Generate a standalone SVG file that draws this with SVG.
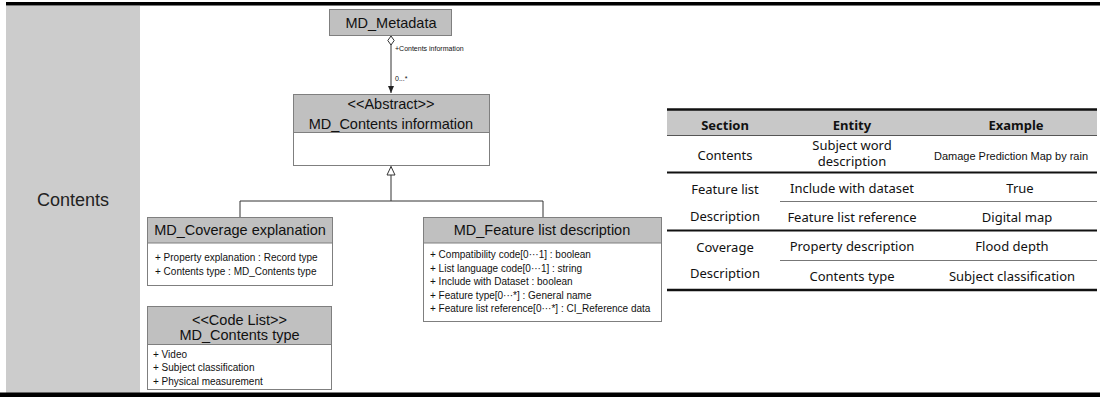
<svg xmlns="http://www.w3.org/2000/svg" width="1100" height="397" viewBox="0 0 1100 397">
<style>
.uml{font-family:"Liberation Sans",Arial,sans-serif;fill:#111}
.hd{font-size:14.5px;text-anchor:middle}
.it{font-size:10px}
.hdbox{fill:#c0c0c0;stroke:#7f7f7f;stroke-width:1}
.body{fill:#fff;stroke:#7f7f7f;stroke-width:1}
.conn{fill:none;stroke:#333;stroke-width:1}
.tb{font-family:"Noto Sans","Liberation Sans",sans-serif;font-size:13px;fill:#111;text-anchor:middle}
.tbh{font-weight:bold}
.thin{stroke:#777;stroke-width:1}
.thick{stroke:#111;stroke-width:2}
</style>
<defs>
<marker id="diamond" markerWidth="10" markerHeight="8" refX="0" refY="4" orient="auto" markerUnits="userSpaceOnUse">
<path d="M0,4 L4.5,0.8 L9,4 L4.5,7.2 Z" fill="#fff" stroke="#333" stroke-width="1"/>
</marker>
<marker id="arrow" markerWidth="8" markerHeight="8" refX="7" refY="4" orient="auto" markerUnits="userSpaceOnUse">
<path d="M0,1 L7,4 L0,7 Z" fill="#222"/>
</marker>
<marker id="gen" markerWidth="10" markerHeight="10" refX="9" refY="5" orient="auto" markerUnits="userSpaceOnUse">
<path d="M0.5,1 L9,5 L0.5,9 Z" fill="#fff" stroke="#333" stroke-width="1"/>
</marker>
</defs>
<rect x="0" y="0" width="1100" height="397" fill="#fff"/>
<g id="frame">
<rect x="6" y="5" width="134" height="388" fill="#cccccc"/>
<rect x="6" y="2" width="1094" height="3" fill="#000"/>
<rect x="6" y="5" width="1094" height="1" fill="#777"/>
<rect x="0" y="392.5" width="1100" height="4.5" fill="#000"/>
<text x="73" y="206" font-family="'Liberation Sans',Arial,sans-serif" font-size="18" fill="#222" text-anchor="middle">Contents</text>
</g>
<g id="connectors">
<path class="conn" d="M391,36 L391,93" marker-start="url(#diamond)" marker-end="url(#arrow)"/>
<text class="uml" x="395" y="51" font-size="7">+Contents information</text>
<text class="uml" x="395" y="81" font-size="7">0...*</text>
<path class="conn" d="M240,217 L240,201 L543,201 L543,217"/>
<path class="conn" d="M391,201 L391,166.5" marker-end="url(#gen)"/>
</g>
<g id="md_metadata">
<rect class="hdbox" x="329.5" y="9.5" width="122" height="26"/>
<text class="uml hd" x="391" y="27.5">MD_Metadata</text>
</g>
<g id="md_contents_information">
<rect class="body" x="293.5" y="94.5" width="196" height="71"/>
<rect class="hdbox" x="293.5" y="94.5" width="196" height="38"/>
<text class="uml hd" x="391" y="109">&lt;&lt;Abstract&gt;&gt;</text>
<text class="uml hd" x="391" y="128.5">MD_Contents information</text>
</g>
<g id="md_coverage_explanation">
<rect class="body" x="147.5" y="217.5" width="185" height="68"/>
<rect class="hdbox" x="147.5" y="217.5" width="185" height="25.5"/>
<text class="uml hd" x="240" y="235">MD_Coverage explanation</text>
<text class="uml it" x="155" y="261">+ Property explanation : Record type</text>
<text class="uml it" x="155" y="274.5">+ Contents type : MD_Contents type</text>
</g>
<g id="md_feature_list_description">
<rect class="body" x="423.5" y="217.5" width="238" height="104"/>
<rect class="hdbox" x="423.5" y="217.5" width="238" height="25.5"/>
<text class="uml hd" x="542" y="235">MD_Feature list description</text>
<text class="uml it" x="430" y="258">+ Compatibility code[0···1] : boolean</text>
<text class="uml it" x="430" y="271.5">+ List language code[0···1] : string</text>
<text class="uml it" x="430" y="285">+ Include with Dataset : boolean</text>
<text class="uml it" x="430" y="298.5">+ Feature type[0···*]  : General name</text>
<text class="uml it" x="430" y="312">+ Feature  list reference[0···*] : CI_Reference data</text>
</g>
<g id="md_contents_type">
<rect class="body" x="147.5" y="306.5" width="184" height="83"/>
<rect class="hdbox" x="147.5" y="306.5" width="184" height="38"/>
<text class="uml hd" x="239.5" y="325">&lt;&lt;Code List&gt;&gt;</text>
<text class="uml hd" x="239.5" y="340">MD_Contents type</text>
<text class="uml it" x="153" y="358">+ Video</text>
<text class="uml it" x="153" y="371">+ Subject classification</text>
<text class="uml it" x="153" y="384.5">+ Physical measurement</text>
</g>
<g id="table">
<rect x="667" y="110" width="430" height="25" fill="#c8c8c8"/>
<line x1="667" y1="109.5" x2="1097" y2="109.5" stroke="#111" stroke-width="2.5"/>
<line x1="667" y1="135.5" x2="1097" y2="135.5" stroke="#555" stroke-width="1"/>
<line class="thick" x1="667" y1="172.5" x2="1097" y2="172.5"/>
<line class="thin" x1="780" y1="201.5" x2="1097" y2="201.5"/>
<line class="thick" x1="667" y1="230.5" x2="1097" y2="230.5"/>
<line class="thin" x1="780" y1="260.5" x2="1097" y2="260.5"/>
<line x1="667" y1="290" x2="1097" y2="290" stroke="#111" stroke-width="2.5"/>
<text class="tb tbh" x="725" y="129.5">Section</text>
<text class="tb tbh" x="852" y="129.5">Entity</text>
<text class="tb tbh" x="1016" y="129.5">Example</text>
<text class="tb" x="725" y="159.5">Contents</text>
<text class="tb" x="852" y="150">Subject word</text>
<text class="tb" x="852" y="166">description</text>
<text class="tb" x="1011" y="159.5" style="font-family:'Liberation Sans',Arial,sans-serif;font-size:11px">Damage Prediction Map by rain</text>
<text class="tb" x="725" y="194">Feature list</text>
<text class="tb" x="852" y="192.5">Include with dataset</text>
<text class="tb" x="1020" y="192.5">True</text>
<text class="tb" x="725" y="221">Description</text>
<text class="tb" x="852" y="222">Feature list reference</text>
<text class="tb" x="1017" y="222">Digital map</text>
<text class="tb" x="725" y="252">Coverage</text>
<text class="tb" x="852" y="251">Property description</text>
<text class="tb" x="1012" y="251">Flood depth</text>
<text class="tb" x="725" y="277.5">Description</text>
<text class="tb" x="852" y="281">Contents type</text>
<text class="tb" x="1012" y="281">Subject classification</text>
</g>
</svg>
